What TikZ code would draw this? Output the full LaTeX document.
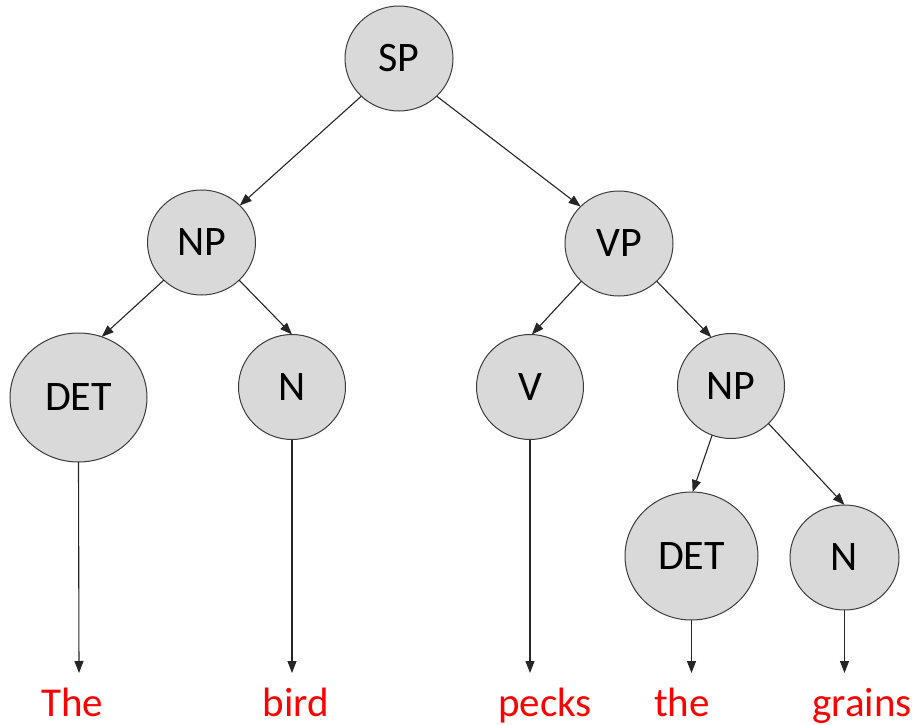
\documentclass[tikz,border=0pt]{standalone}
\usepackage{fontspec}
\setmainfont{Carlito}
\usetikzlibrary{shapes.geometric,arrows.meta}
\definecolor{nodefill}{RGB}{217,217,217}
\definecolor{nodeline}{RGB}{60,60,60}
\definecolor{wordred}{RGB}{255,0,0}
\begin{document}
\begin{tikzpicture}[x=1pt,y=-1pt,
  nd/.style={ellipse,draw=nodeline,line width=1pt,fill=nodefill,inner sep=0pt,outer sep=0pt,
    font=\fontsize{42}{48}\selectfont},
  edge/.style={draw=black!85,line width=1.1pt,-{Triangle[length=12pt,width=9pt]}},
  word/.style={text=wordred,font=\fontsize{41}{48}\selectfont,anchor=base,inner sep=0pt}]
\useasboundingbox (0,0) rectangle (914,725);
\node[nd,minimum width=108pt,minimum height=105pt] (sp) at (399,58.5) {SP};
\node[nd,minimum width=108pt,minimum height=105pt] (npl) at (201.5,242.5) {NP};
\node[nd,minimum width=108pt,minimum height=105pt] (vp) at (619,243.5) {VP};
\node[nd,minimum width=137pt,minimum height=129pt] (detl) at (78.5,397.5) {DET};
\node[nd,minimum width=107pt,minimum height=105pt] (nl) at (292,387) {N};
\node[nd,minimum width=107pt,minimum height=105pt] (v) at (530,387) {V};
\node[nd,minimum width=107pt,minimum height=105pt] (npr) at (731,386) {NP};
\node[nd,minimum width=133pt,minimum height=128pt] (detr) at (691.5,556) {DET};
\node[nd,minimum width=109pt,minimum height=105pt] (nr) at (844.5,557.5) {N};

\draw[edge] (sp.225) -- (npl.44);
\draw[edge] (sp.315) -- (vp.136);
\draw[edge] (npl.225) -- (detl.69);
\draw[edge] (npl.315) -- (nl.90);
\draw[edge] (vp.225) -- (v.88);
\draw[edge] (vp.315) -- (npr.112);
\draw[edge] (npr.249) -- (detr.89);
\draw[edge] (npr.315) -- (nr.90);

\coordinate (e1) at (79,673);
\coordinate (e2) at (292,673);
\coordinate (e3) at (530,673);
\coordinate (e4) at (691.5,673);
\coordinate (e5) at (844.5,673);
\draw[edge] (detl.south) -- (e1);
\draw[edge] (nl.south) -- (e2);
\draw[edge] (v.south) -- (e3);
\draw[edge] (detr.south) -- (e4);
\draw[edge] (nr.south) -- (e5);

\node[word] (w1) at (72,716) {The};
\node[word] (w2) at (296,716) {bird};
\node[word] (w3) at (545,716) {pecks};
\node[word] (w4) at (682,716) {the};
\node[word] (w5) at (862,716) {grains};
\end{tikzpicture}
\end{document}
